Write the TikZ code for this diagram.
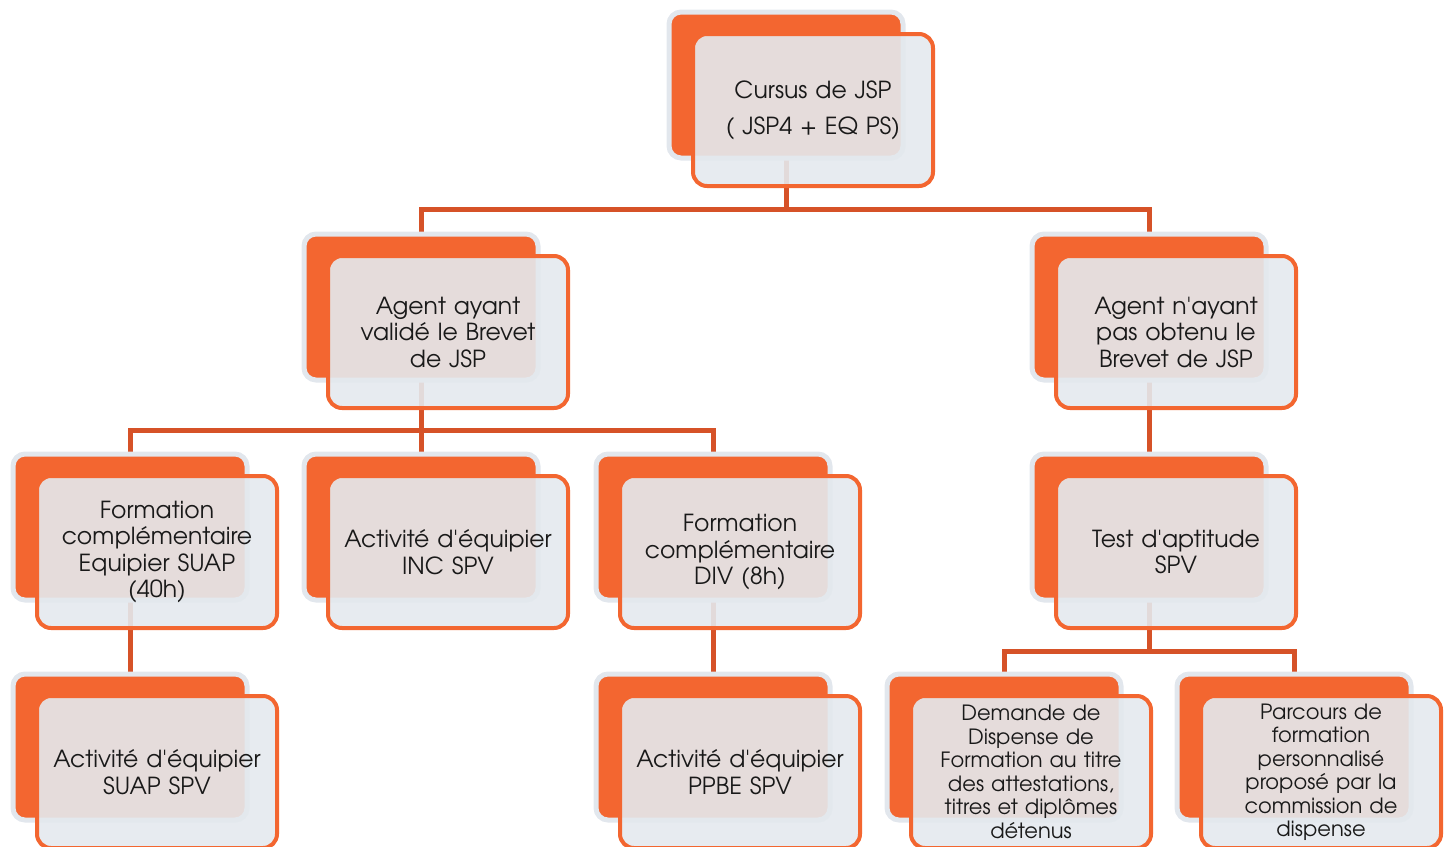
\documentclass[tikz,border=0pt]{standalone}
\usepackage{fontspec}
\setmainfont{TeX Gyre Adventor}[Ligatures=TeXOff]

\pgfdeclarelayer{links}
\pgfsetlayers{links,main}

\definecolor{tabOrange}{RGB}{243,102,48}
\definecolor{linkOrange}{RGB}{214,82,40}
\definecolor{rimGray}{RGB}{226,231,237}
\definecolor{cardFill}{RGB}{228,233,238}
\definecolor{inkDark}{RGB}{25,25,25}

\tikzset{
  tab/.style={rounded corners=12pt, fill=tabOrange, draw=rimGray, line width=5pt,
    minimum width=234pt, minimum height=146pt, inner sep=0pt},
  card/.style={rounded corners=14pt, fill=cardFill, fill opacity=0.9, text opacity=1,
    draw=tabOrange, draw opacity=1, line width=4pt,
    minimum width=240pt, minimum height=152pt, inner sep=0pt,
    align=center, text=inkDark, text width=232pt,
    font=\fontsize{23.5}{26.5}\selectfont},
  smalltext/.style={font=\fontsize{21}{23.5}\selectfont},
  link/.style={draw=linkOrange, line width=5pt}
}

% #1 name, #2/#3 top-left corner of the orange tab, #4 text, #5 extra card style
\newcommand\orgbox[5]{%
  \node[tab] (#1-b) at (#2+116, #3+72) {};
  \node[card,#5] (#1) at (#2+143, #3+97) {#4};
}

\begin{document}
\begin{tikzpicture}[x=1pt, y=-1pt]
  \useasboundingbox (0,0) rectangle (1453,846);
  \clip (0,0) rectangle (1453,846);

  % level 1
  \orgbox{top}{670}{13}{Cursus de JSP\\[9.5pt]( JSP4 + EQ PS)}{}
  % level 2
  \orgbox{agentA}{305}{235}{Agent ayant\\valid\'e le Brevet\\de JSP}{}
  \orgbox{agentB}{1033}{235}{Agent n'ayant\\pas obtenu le\\Brevet de JSP}{}
  % level 3
  \orgbox{suap}{14}{455}{Formation\\compl\'ementaire\\Equipier SUAP\\(40h)}{}
  \orgbox{inc}{305}{455}{Activit\'e d'\'equipier\\INC SPV}{}
  \orgbox{div}{597}{455}{Formation\\compl\'ementaire\\DIV (8h)}{}
  \orgbox{test}{1033}{455}{Test d'aptitude\\SPV}{}
  % level 4
  \orgbox{suapspv}{14}{675}{Activit\'e d'\'equipier\\SUAP SPV}{}
  \orgbox{ppbe}{597}{675}{Activit\'e d'\'equipier\\PPBE SPV}{}
  \orgbox{dem}{888}{675}{Demande de\\Dispense de\\Formation au titre\\des attestations,\\titres et dipl\^omes\\d\'etenus}{smalltext}
  \orgbox{parc}{1178}{675}{Parcours de\\formation\\personnalis\'e\\propos\'e par la\\commission de\\dispense}{smalltext}

  % junction points of the connectors
  \coordinate (j1) at (786,209);
  \coordinate (j2) at (421,430);
  \coordinate (j3) at (1149,651);

  \begin{pgfonlayer}{links}
    \draw[link] (top-b.center) -- (j1);
    \draw[link] (agentA-b.center) |- (j1) -| (agentB-b.center);
    \draw[link] (agentA-b.center) -- (inc-b.center);
    \draw[link] (suap-b.center) |- (j2) -| (div-b.center);
    \draw[link] (agentB-b.center) -- (test-b.center);
    \draw[link] (test-b.center) -- (j3);
    \draw[link] (dem-b.center) |- (j3) -| (parc-b.center);
    \draw[link] (suap-b.center) -- (suapspv-b.center);
    \draw[link] (div-b.center) -- (ppbe-b.center);
  \end{pgfonlayer}
\end{tikzpicture}
\end{document}
